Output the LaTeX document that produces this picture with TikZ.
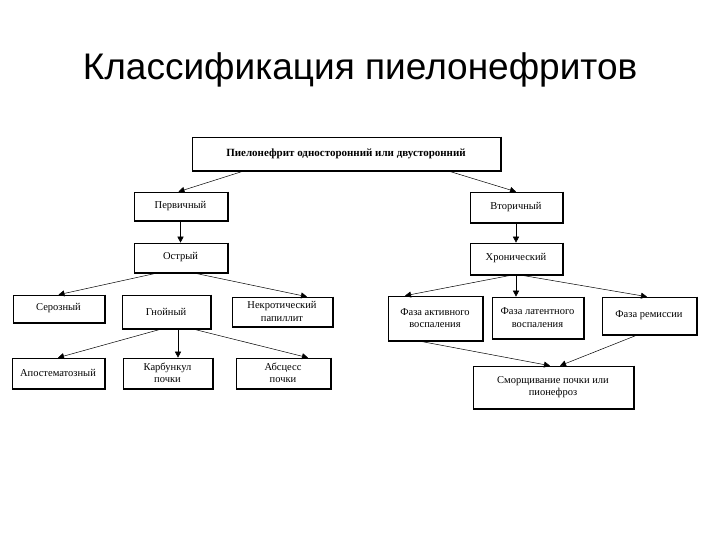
\documentclass[tikz,border=0pt]{standalone}
\usepackage{fontspec}
\setmainfont{Liberation Serif}
\newfontfamily\ttl{Liberation Sans}
\usetikzlibrary{arrows.meta}
\begin{document}
\begin{tikzpicture}[x=1pt,y=-1pt,
  bx/.style={draw,line width=0.6pt,inner sep=0pt,font=\fontsize{10.5}{12.5}\selectfont,align=center},
  ar/.style={-{Triangle[length=6pt,width=6pt]},line width=0.5pt}]
\useasboundingbox (0,0) rectangle (720,540);
\node[font=\ttl\fontsize{37}{40}\selectfont] (title) at (360,70) {Классификация пиелонефритов};
\newcommand\bxx[6]{\node[bx,minimum width=#4-#2,minimum height=#5-#3] (#1) at ({(#2+#4)/2},{(#3+#5)/2}) {#6};
 \draw[line width=1.4pt] ([xshift=0.7pt]#1.north east) -- ([xshift=0.7pt,yshift=-0.7pt]#1.south east) -- ([yshift=-0.7pt]#1.south west);}
\bxx{top}{192}{137}{500}{170}{\textbf{\fontsize{11}{13}\selectfont Пиелонефрит односторонний или двусторонний}}
\bxx{perv}{134}{192}{227}{220}{Первичный}
\bxx{vtor}{470}{192}{562}{222}{Вторичный}
\bxx{ostr}{134}{243}{227}{272}{Острый}
\bxx{hron}{470}{243}{562}{274}{Хронический}
\bxx{ser}{13}{295}{104}{322}{Серозный}
\bxx{gn}{122}{295}{210}{328}{Гнойный}
\bxx{nek}{232}{297}{332}{326}{Некротический\\папиллит}
\bxx{apo}{12}{358}{104}{388}{Апостематозный}
\bxx{kar}{123}{358}{212}{388}{Карбункул\\почки}
\bxx{abs}{236}{358}{330}{388}{Абсцесс\\почки}
\bxx{fa}{388}{296}{482}{340}{Фаза активного\\воспаления}
\bxx{fl}{492}{297}{583}{338}{Фаза латентного\\воспаления}
\bxx{fr}{602}{297}{696}{334}{Фаза ремиссии}
\bxx{smo}{473}{366}{633}{408}{Сморщивание почки или\\пионефроз}
\draw[ar] ([xshift=-100pt]top.south) -- ([xshift=-2pt]perv.north);
\draw[ar] ([xshift=100pt]top.south) -- ([xshift=0pt]vtor.north);
\draw[ar] (perv.south) -- (ostr.north);
\draw[ar] (vtor.south) -- (hron.north);
\draw[ar] ([xshift=-20pt]ostr.south) -- (ser.north);
\draw[ar] ([xshift=10pt]ostr.south) -- ([xshift=25pt]nek.north);
\draw[ar] ([xshift=-2pt]gn.south) -- (apo.north);
\draw[ar] ([xshift=12pt]gn.south) -- ([xshift=10.5pt]kar.north);
\draw[ar] ([xshift=24pt]gn.south) -- ([xshift=25pt]abs.north);
\draw[ar] (hron.south) -- ([xshift=-30pt]fa.north);
\draw[ar] (hron.south) -- ([xshift=-21.5pt]fl.north);
\draw[ar] (hron.south) -- ([xshift=-2pt]fr.north);
\draw[ar] ([xshift=-20pt]fa.south) -- ([xshift=-3pt]smo.north);
\draw[ar] ([xshift=-10pt]fr.south) -- ([xshift=7pt]smo.north);
\end{tikzpicture}
\end{document}
